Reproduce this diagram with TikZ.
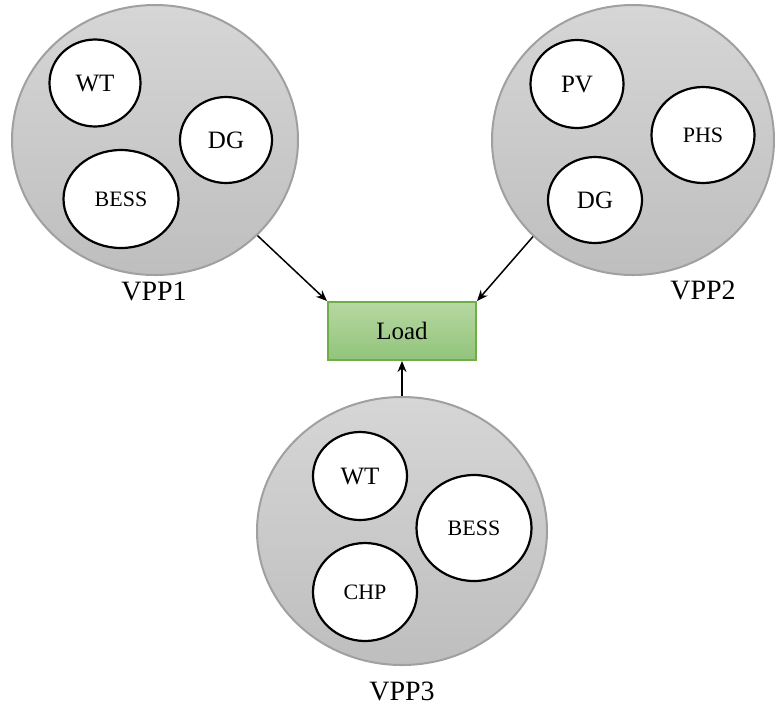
\documentclass[tikz,border=0pt]{standalone}
\usepackage{fontspec}
\setmainfont{Liberation Serif}
\usetikzlibrary{arrows.meta, shapes.geometric}
\definecolor{vtop}{HTML}{D6D6D6}
\definecolor{vbot}{HTML}{BEBEBE}
\definecolor{vedge}{HTML}{A0A0A0}
\definecolor{ltop}{HTML}{B6D8A2}
\definecolor{lbot}{HTML}{92C47B}
\definecolor{ledge}{HTML}{6FAD47}
\tikzset{
  every picture/.style={line width=2pt},
  vpp/.style={ellipse, draw=vedge, top color=vtop, bottom color=vbot, inner sep=0pt},
  unit/.style={ellipse, draw=black, fill=white, inner sep=0pt, line width=2.2pt, font=\fontsize{25}{29}\selectfont},
  smallunit/.style={unit, font=\fontsize{22}{26}\selectfont},
  vpplabel/.style={font=\fontsize{28}{32}\selectfont},
  loadbox/.style={draw=ledge, top color=ltop, bottom color=lbot, minimum width=148pt, minimum height=58pt, font=\fontsize{25}{30}\selectfont},
  arrow/.style={-{Stealth[length=11pt, width=9pt]}, draw=black, line width=1.5pt},
}

\begin{document}
\begin{tikzpicture}[x=1pt, y=-1pt]
  \useasboundingbox (0,0) rectangle (775,713);
  % the three virtual power plants
  \node[vpp, minimum width=286pt, minimum height=270pt] (v1) at (155,140) {};
  \node[vpp, minimum width=282pt, minimum height=270pt] (v2) at (633,140) {};
  \node[vpp, minimum width=290pt, minimum height=268pt] (v3) at (402,531) {};
  \node[vpplabel] (l1) at (154,291) {VPP1};
  \node[vpplabel] (l2) at (703,290) {VPP2};
  \node[vpplabel] (l3) at (402,691) {VPP3};
  % units inside VPP1
  \node[unit, minimum width=91pt, minimum height=87pt] (wt1) at (95,83) {WT};
  \node[unit, minimum width=92pt, minimum height=86pt] (dg1) at (226,140) {DG};
  \node[smallunit, minimum width=115pt, minimum height=98pt] (bess1) at (121,199) {BESS};
  % units inside VPP2
  \node[unit, minimum width=93pt, minimum height=88pt] (pv2) at (577,84) {PV};
  \node[smallunit, minimum width=103pt, minimum height=96pt] (phs2) at (703,135) {PHS};
  \node[unit, minimum width=94pt, minimum height=86pt] (dg2) at (595,200) {DG};
  % units inside VPP3
  \node[unit, minimum width=94pt, minimum height=88pt] (wt3) at (360,476) {WT};
  \node[smallunit, minimum width=115pt, minimum height=106pt] (bess3) at (474,528) {BESS};
  \node[smallunit, minimum width=104pt, minimum height=98pt] (chp3) at (365,592) {CHP};
  % load
  \node[loadbox] (load) at (402,331) {Load};
  \draw[arrow] (v1.-43) -- (load.north west);
  \draw[arrow] (v2.224) -- (load.north east);
  \draw[arrow] (v3.north) -- (load.south);
\end{tikzpicture}
\end{document}
